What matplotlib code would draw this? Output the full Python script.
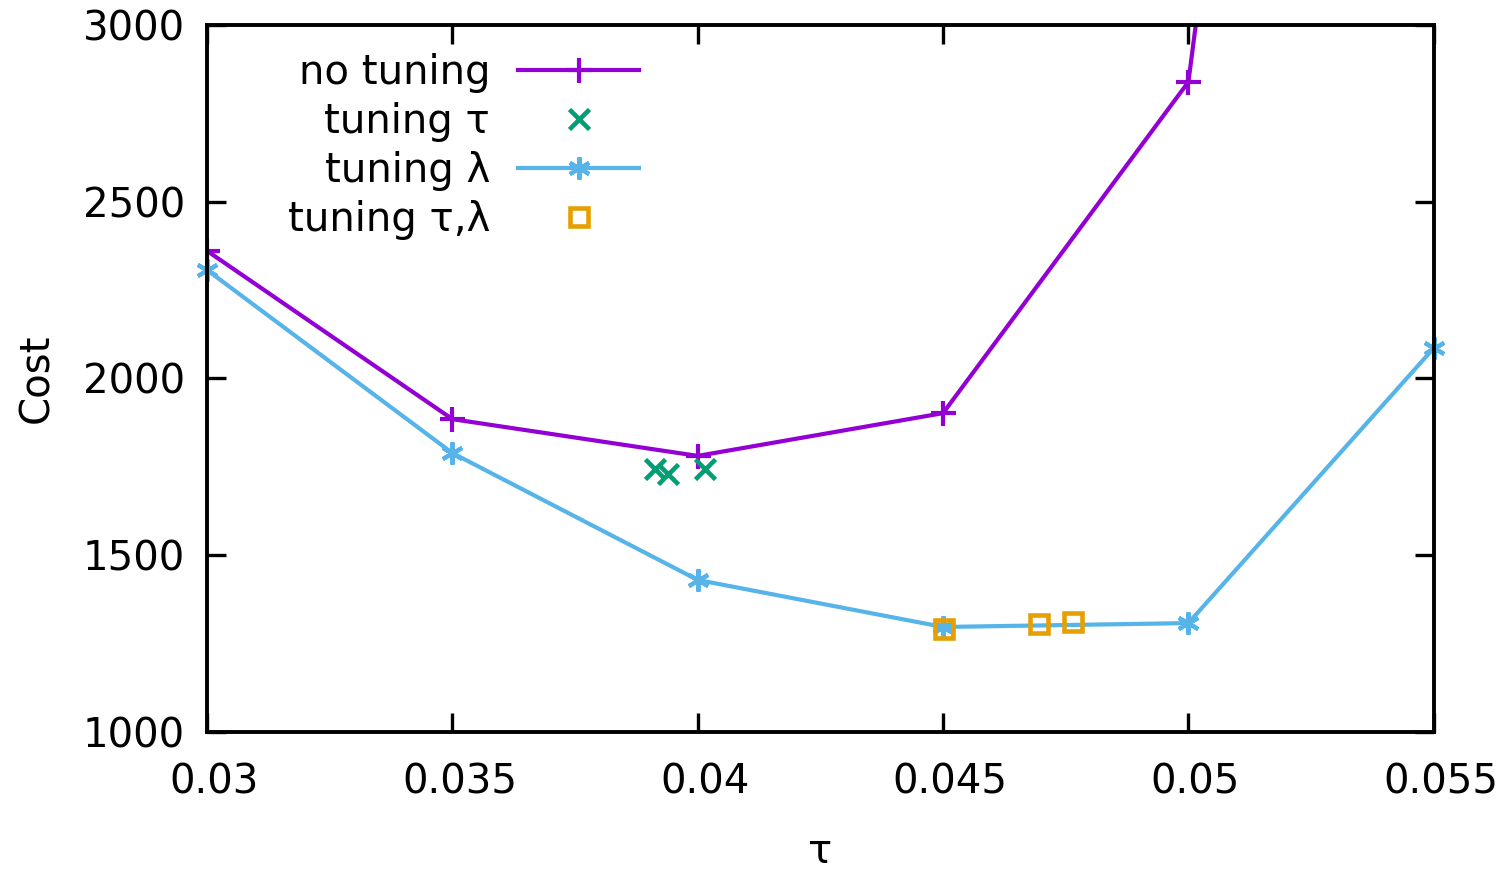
import numpy as np
import matplotlib.pyplot as plt
import matplotlib.transforms as mtransforms

# data
tau_grid = [0.030, 0.035, 0.040, 0.045, 0.050, 0.055]
cost_no_tuning = [2361, 1885, 1781, 1902, 2839, 8200]
cost_tuning_lambda = [2307, 1789, 1430, 1297, 1308, 2086]

tau_tuned = [0.03913, 0.03939, 0.04015]
cost_tuning_tau = [1744, 1730, 1744]

tau_both = [0.04502, 0.04695, 0.04764]
cost_tuning_both = [1291, 1306, 1311]

xticks = [0.03, 0.035, 0.04, 0.045, 0.05, 0.055]
xticklabels = ['0.03', '0.035', '0.04', '0.045', '0.05', '0.055']
yticks = [1000, 1500, 2000, 2500, 3000]

plt.rcParams['font.family'] = ['DejaVu Sans']
fs = 29

fig = plt.figure(figsize=(15.06, 8.72), dpi=100)
ax = fig.add_axes([0.1375, 0.1606, 0.8145, 0.8107])

ax.plot(tau_grid, cost_no_tuning, color='#9400d3', lw=3, marker='+',
        ms=18, mew=3, label='no tuning')
ax.plot(tau_tuned, cost_tuning_tau, color='#009e73', lw=0, marker='x',
        ms=14, mew=3.3, label='tuning τ')
ax.plot(tau_grid, cost_tuning_lambda, color='#56b4e9', lw=3, marker=(6, 2, 0),
        ms=16, mew=3, label='tuning λ', clip_on=False)
ax.plot(tau_both, cost_tuning_both, color='#e69f00', lw=0, marker='s',
        ms=13, mew=3.3, mfc='none', label='tuning τ,λ')

ax.set_xlim(0.03, 0.055)
ax.set_ylim(1000, 3000)
ax.set_xticks(xticks)
ax.set_xticklabels(xticklabels)
ax.set_yticks(yticks)
ax.tick_params(direction='in', length=14, width=2.4, labelsize=fs,
               top=True, right=True)
ax.tick_params(axis='x', pad=22)
ax.tick_params(axis='y', pad=16)
for s in ax.spines.values():
    s.set_linewidth(2.8)

# gnuplot puts the x tick labels a little to the right of the tick
shift = mtransforms.ScaledTranslation(7 / 100, 0, fig.dpi_scale_trans)
for lab in ax.get_xticklabels():
    lab.set_transform(lab.get_transform() + shift)

ax.set_xlabel('τ', fontsize=fs, labelpad=21)
ax.set_ylabel('Cost', fontsize=fs, labelpad=18)

leg = ax.legend(loc='upper left', bbox_to_anchor=(0.046, 0.994), frameon=False,
                fontsize=fs, markerfirst=False, handlelength=3.0,
                labelspacing=0.22, handletextpad=0.7, borderaxespad=0.2)
for t in leg.get_texts():
    t.set_ha('right')
leg._legend_box.align = 'right'

fig.savefig('out.png', dpi=100)
